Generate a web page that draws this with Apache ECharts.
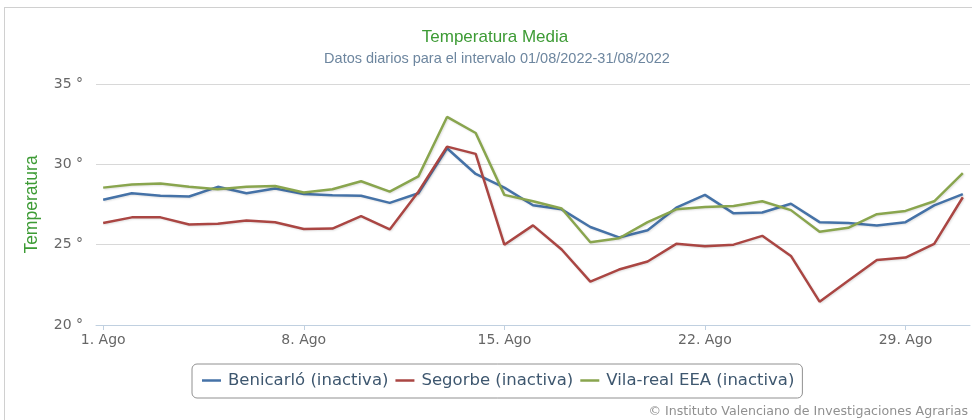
<!DOCTYPE html>
<html>
<head>
<meta charset="utf-8">
<script src="https://cdn.jsdelivr.net/npm/echarts@6/dist/echarts.min.js"></script>
<style>
    html, body { margin: 0; padding: 0; background: #fff; }
    #frame { position: absolute; left: 4px; top: 7px; width: 990px; height: 430px; border: 1px solid #d0d0d0; }
    #main { position: absolute; left: 0; top: 0; width: 972px; height: 420px; }
</style>
</head>
<body>
<div id="frame"></div>
<div id="main"></div>
<script>
// dias de agosto 2022
var days = [1,2,3,4,5,6,7,8,9,10,11,12,13,14,15,16,17,18,19,20,21,22,23,24,25,26,27,28,29,30,31];
var benicarlo = [27.8,28.2,28.05,28.0,28.6,28.2,28.5,28.15,28.07,28.05,27.6,28.2,31.0,29.4,28.55,27.45,27.2,26.1,25.45,25.9,27.3,28.1,26.95,27.0,27.55,26.4,26.35,26.2,26.4,27.45,28.15];
var segorbe = [26.35,26.7,26.7,26.25,26.3,26.5,26.4,25.97,26.0,26.78,25.95,28.3,31.1,30.65,25.0,26.2,24.7,22.7,23.45,23.95,25.05,24.9,25.0,25.55,24.3,21.45,22.75,24.05,24.2,25.05,27.95];
var vilareal = [28.55,28.75,28.8,28.6,28.45,28.6,28.65,28.25,28.45,28.95,28.3,29.25,32.95,31.95,28.1,27.7,27.25,25.15,25.4,26.4,27.2,27.35,27.4,27.7,27.15,25.8,26.05,26.9,27.1,27.7,29.45];
var xTicks = [1, 8, 15, 22, 29];

var seriesNames = ['Benicarló (inactiva)', 'Segorbe (inactiva)', 'Vila-real EEA (inactiva)'];
var lineColor = ['#4572A7', '#AA4643', '#89A54E'];

var myChart = echarts.init(document.getElementById('main'));

function pairs(values) {
    return days.map(function(d, i) { return [d, values[i]]; });
}

var series = [benicarlo, segorbe, vilareal].map(function(values, index) {
    return {
        name: seriesNames[index],
        type: 'line',
        symbol: 'none',
        data: pairs(values),
        itemStyle: { color: lineColor[index] },
        lineStyle: {
            width: 2.5,
            color: lineColor[index],
            shadowColor: 'rgba(0,0,0,0.12)',
            shadowBlur: 2,
            shadowOffsetX: 1,
            shadowOffsetY: 1
        }
    };
});

var option = {
    animation: false,
    title: [{
        text: 'Temperatura Media',
        left: 490,
        textAlign: 'center',
        top: 24,
        textStyle: { color: '#3d9b35', fontSize: 17, fontWeight: 'normal', fontFamily: 'Liberation Sans' }
    }, {
        text: 'Datos diarios para el intervalo 01/08/2022-31/08/2022',
        left: 492,
        textAlign: 'center',
        top: 46,
        textStyle: { color: '#6D869F', fontSize: 14.5, fontWeight: 'normal', fontFamily: 'Liberation Sans' }
    }],
    grid: { left: 96, right: 2, top: 84, bottom: 95 },
    legend: {
        data: seriesNames,
        left: 192,
        top: 364,
        padding: [8, 8, 9, 10],
        borderColor: '#909090',
        borderWidth: 1,
        borderRadius: 5,
        icon: 'rect',
        itemWidth: 19,
        itemHeight: 2.5,
        itemGap: 7,
        textStyle: { color: '#3E576F', fontSize: 16.5, fontFamily: 'DejaVu Sans', padding: [0, 0, 0, 2] }
    },
    xAxis: {
        type: 'value',
        min: 0.75,
        max: 31.25,
        axisLine: { lineStyle: { color: '#C0D0E0' } },
        axisTick: { show: true, customValues: xTicks, length: 5, lineStyle: { color: '#C0D0E0' } },
        axisLabel: {
            customValues: xTicks,
            formatter: function(v) { return v + '. Ago'; },
            color: '#666',
            fontSize: 14,
            fontFamily: 'DejaVu Sans',
            margin: 8
        },
        splitLine: { show: false }
    },
    yAxis: {
        type: 'value',
        min: 20,
        max: 35,
        interval: 5,
        name: 'Temperatura',
        nameLocation: 'middle',
        nameGap: 55,
        nameRotate: 90,
        nameTextStyle: { color: '#3d9b35', fontSize: 17.5, fontFamily: 'Liberation Sans' },
        axisLine: { show: false },
        axisTick: { show: false },
        axisLabel: {
            formatter: function(v) { return v + ' °'; },
            color: '#666',
            fontSize: 14,
            fontFamily: 'DejaVu Sans',
            margin: 13
        },
        splitLine: { lineStyle: { color: '#D8D8D8', width: 1 } }
    },
    graphic: [{
        type: 'text',
        right: 4,
        top: 405,
        style: {
            text: '© Instituto Valenciano de Investigaciones Agrarias',
            fill: '#909090',
            font: '12.6px "DejaVu Sans"'
        }
    }],
    series: series
};

myChart.setOption(option);
</script>
</body>
</html>
